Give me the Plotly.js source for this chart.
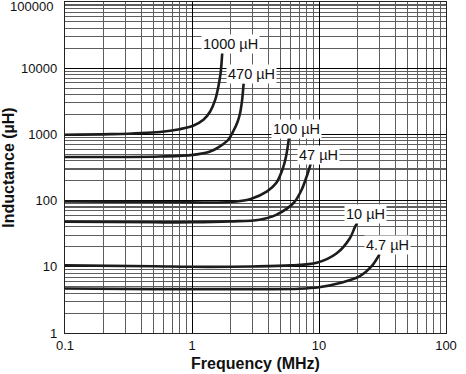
<!DOCTYPE html>
<html>
<head>
<meta charset="utf-8">
<script src="https://cdn.plot.ly/plotly-3.0.1.min.js"></script>
<style>html,body{margin:0;padding:0;background:#fff;}#chart{width:466px;height:374px;}</style>
</head>
<body>
<div id="chart"></div>
<script>
// Series: frequency (MHz) and inductance (µH)
const seriesNames = ['1000 µH', '470 µH', '100 µH', '47 µH', '10 µH', '4.7 µH'];
const freq1000 = [0.1, 0.23, 0.56, 0.8, 1.02, 1.23, 1.39, 1.52, 1.61, 1.68, 1.73];
const ind1000  = [990, 1010, 1090, 1200, 1350, 1660, 2220, 3300, 5200, 8400, 17000];
const freq470  = [0.1, 0.56, 1.02, 1.39, 1.66, 1.93, 2.11, 2.29, 2.39, 2.48, 2.55];
const ind470   = [455, 464, 490, 550, 660, 830, 1110, 1570, 2090, 3300, 5900];
const freq100  = [0.1, 0.5, 1.0, 2.0, 2.9, 3.9, 4.6, 5.2, 5.5, 5.8];
const ind100   = [97, 95, 94, 95, 106, 138, 184, 310, 465, 880];
const freq47   = [0.1, 0.5, 1.0, 2.0, 3.4, 4.6, 6.3, 7.3, 8.0, 8.6];
const ind47    = [48, 47, 47, 48.5, 51.5, 61, 92, 146, 232, 360];
const freq10   = [0.1, 0.5, 1.0, 3.0, 6.0, 9.6, 13.8, 17.5, 19.2, 20];
const ind10    = [10.5, 10.2, 10.0, 10.1, 10.5, 11.5, 16, 27, 40, 46];
const freq4_7  = [0.1, 0.5, 1.0, 3.0, 7.0, 10, 14.6, 21, 26, 30];
const ind4_7   = [4.7, 4.6, 4.6, 4.6, 4.65, 4.9, 5.7, 7.2, 10.2, 15.5];

const xTickVals = [0.1, 1, 10, 100];
const xTickText = ['0.1', '1', '10', '100'];
const yTickVals = [1, 10, 100, 1000, 10000, 100000];
const yTickText = ['1', '10', '100', '1000', '10000', '100000'];

const xs = [freq1000, freq470, freq100, freq47, freq10, freq4_7];
const ys = [ind1000, ind470, ind100, ind47, ind10, ind4_7];

function minorVals(lo, hi) {
  const out = [];
  for (let e = lo; e < hi; e++) {
    for (let m = 2; m <= 9; m++) out.push(m * Math.pow(10, e));
  }
  return out;
}

const FONT = 'Liberation Sans, Arial, Helvetica, sans-serif';
const traces = xs.map((x, i) => ({
  x: x, y: ys[i], type: 'scatter', mode: 'lines', name: seriesNames[i],
  line: {color: '#1c1c1c', width: 2.6, shape: 'spline', smoothing: 1},
  hoverinfo: 'skip'
}));

const annotations = seriesNames.map((name, i) => ({
  x: Math.log10(xs[i][xs[i].length - 1]),
  y: Math.log10(ys[i][ys[i].length - 1]),
  xref: 'x', yref: 'y', text: name, showarrow: false,
  xshift: 8, yshift: 9, bgcolor: '#ffffff', borderpad: 1,
  font: {family: FONT, size: 14.5, color: '#111'}
}));
// top y tick label (sits at the very edge of the plot, so drawn as an annotation)
const lastY = yTickVals.length - 1;
annotations.push({
  x: 0, xref: 'paper', y: Math.log10(yTickVals[lastY]), yref: 'y',
  text: yTickText[lastY], showarrow: false, xanchor: 'right', yanchor: 'middle',
  xshift: -10, yshift: -4,
  font: {family: FONT, size: 13, color: '#111'}
});

const layout = {
  width: 466, height: 374,
  margin: {l: 65, r: 20, t: 2, b: 41},
  paper_bgcolor: '#ffffff', plot_bgcolor: '#ffffff',
  showlegend: false,
  xaxis: {
    type: 'log', range: [-1, 2],
    tickmode: 'array', tickvals: xTickVals, ticktext: xTickText,
    ticks: '', showgrid: true, gridcolor: '#000', gridwidth: 1,
    minor: {tickmode: 'array', tickvals: minorVals(-1, 2), showgrid: true, gridcolor: '#5e5e5e', gridwidth: 1.1, ticks: ''},
    showline: true, linecolor: '#222', linewidth: 1.2, mirror: true, zeroline: false,
    tickfont: {family: FONT, size: 13, color: '#111'},
    title: {text: 'Frequency (MHz)', font: {family: FONT, size: 16, color: '#111', weight: 'bold'}, standoff: 6}
  },
  yaxis: {
    type: 'log', range: [0, 5],
    tickmode: 'array', tickvals: yTickVals.slice(0, lastY), ticktext: yTickText.slice(0, lastY),
    ticks: '', showgrid: true, gridcolor: '#000', gridwidth: 1,
    minor: {tickmode: 'array', tickvals: minorVals(0, 5), showgrid: true, gridcolor: '#5e5e5e', gridwidth: 1.1, ticks: ''},
    showline: true, linecolor: '#222', linewidth: 1.2, mirror: true, zeroline: false,
    tickfont: {family: FONT, size: 13, color: '#111'},
    ticklabelstandoff: 4,
    title: {text: 'Inductance (µH)', font: {family: FONT, size: 16, color: '#111', weight: 'bold'}, standoff: 4}
  },
  annotations: annotations
};

Plotly.newPlot('chart', traces, layout, {staticPlot: true, displayModeBar: false});
</script>
</body>
</html>
